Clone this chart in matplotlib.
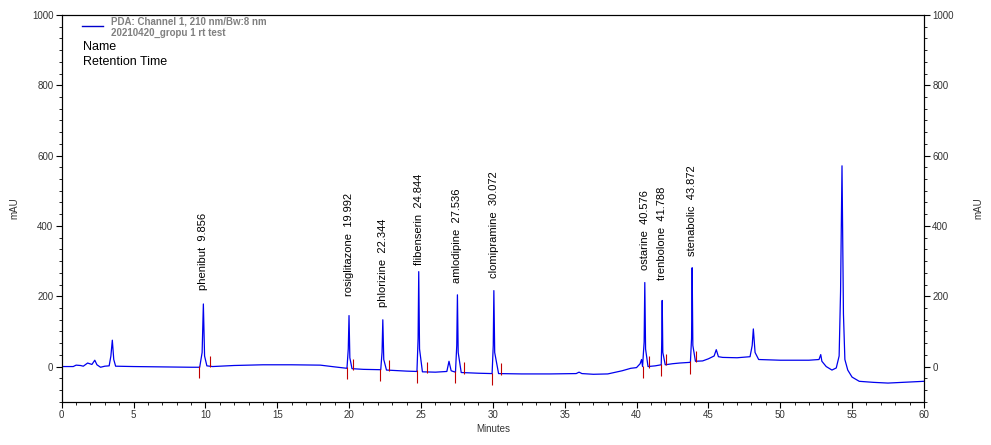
import numpy as np
import matplotlib
matplotlib.use("Agg")
import matplotlib.pyplot as plt
from matplotlib.ticker import MultipleLocator

plt.rcParams['font.family'] = ['Liberation Sans', 'DejaVu Sans']

# trace (minutes, mAU)
time = [0.0, 0.8, 1.0, 1.3, 1.5, 1.8, 2.1, 2.3, 2.45, 2.7, 3.0, 3.3, 3.42, 3.52, 3.62, 3.75,
        5.0, 7.0, 9.0, 9.6, 9.77, 9.856, 9.94, 10.1, 10.5, 12.0, 14.0, 16.0, 18.0, 19.0,
        19.85, 19.94, 19.992, 20.05, 20.2, 21.0, 22.2, 22.29, 22.344, 22.41, 22.6, 24.0,
        24.72, 24.80, 24.844, 24.90, 25.1, 26.0, 26.8, 26.95, 27.1, 27.4, 27.49, 27.536,
        27.59, 27.8, 29.0, 29.95, 30.03, 30.072, 30.13, 30.4, 32.0, 34.0, 35.8, 36.0, 36.2,
        37.0, 38.0, 39.0, 39.6, 40.0, 40.25, 40.35, 40.42, 40.53, 40.576, 40.63, 40.8, 41.3,
        41.72, 41.75, 41.788, 41.83, 42.0, 42.5, 43.0, 43.75, 43.83, 43.872, 43.92, 44.1,
        44.6, 45.0, 45.4, 45.55, 45.7, 46.0, 47.0, 47.9, 48.05, 48.13, 48.25, 48.5, 50.0,
        52.0, 52.7, 52.82, 52.9, 53.2, 53.6, 53.9, 54.1, 54.2, 54.3, 54.4, 54.5, 54.7,
        55.0, 55.5, 56.5, 57.5, 58.5, 60.0]
signal = [0, 0, 4, 3, 1, 10, 6, 18, 5, -2, 1, 2, 30, 75, 20, 1,
          0, -1, -2, -2, 40, 178, 30, 2, 0, 3, 5, 5, 4, -1,
          -5, 50, 145, 25, -6, -8, -9, 40, 133, 20, -10, -13,
          -14, 80, 270, 50, -15, -16, -14, 15, -12, -16, 60, 204,
          40, -17, -19, -20, 60, 216, 40, -20, -21, -21, -20, -16, -20,
          -22, -21, -12, -5, -3, 8, 20, 0, 70, 239, 50, 0, 2,
          5, 60, 188, 40, 5, 8, 10, 12, 80, 281, 60, 15,
          16, 22, 30, 48, 28, 26, 25, 28, 60, 107, 40, 20, 18,
          18, 20, 34, 15, 0, -10, -4, 30, 214, 571, 150, 20, -10,
          -30, -42, -45, -47, -45, -42]

names = ["phenibut", "rosiglitazone", "phlorizine", "flibenserin", "amlodipine",
         "clomipramine", "ostarine", "trenbolone", "stenabolic"]
rt = [9.856, 19.992, 22.344, 24.844, 27.536, 30.072, 40.576, 41.788, 43.872]
heights = [178, 145, 133, 270, 204, 216, 239, 188, 281]
peak_start = [9.55, 19.84, 22.18, 24.71, 27.35, 29.92, 40.43, 41.70, 43.72]
peak_end = [10.3, 20.26, 22.76, 25.40, 27.98, 30.57, 40.84, 42.05, 44.13]
start_base = [-2, -4, -9, -14, -16, -20, -1, 4, 12]
end_base = [1, -7, -10, -15, -17, -20, 0, 6, 15]

label_lift = [40, 55, 35, 20, 34, 37, 37, 59, 33]

fig = plt.figure(figsize=(9.91, 4.45), dpi=100)
ax = fig.add_axes([0.0623, 0.0973, 0.870, 0.869])

ax.plot(time, signal, color='#0000ee', lw=0.9)

tick_col = '#c00000'
ax.vlines(peak_start, np.array(start_base) + 3, np.array(start_base) - 32, color=tick_col, lw=0.8)
ax.vlines(peak_end, np.array(end_base) - 3, np.array(end_base) + 29, color=tick_col, lw=0.8)

for n, t, h, lift in zip(names, rt, heights, label_lift):
    ax.text(t, h + lift, f"{n}  {t:.3f}", rotation=90, ha='center', va='bottom',
            fontsize=8, color='black')

ax.set_xlim(0, 60)
ax.set_ylim(-100, 1000)
ax.xaxis.set_major_locator(MultipleLocator(5))
ax.xaxis.set_minor_locator(MultipleLocator(1))
ax.yaxis.set_major_locator(MultipleLocator(200))
ax.yaxis.set_minor_locator(MultipleLocator(200 / 6))
ax.tick_params(which='major', length=4, width=0.8, labelsize=7, labelcolor='#333333', pad=2)
ax.tick_params(which='minor', length=2.5, width=0.6)
ax.set_xlabel("Minutes", fontsize=7, color='#333333', labelpad=3)
ax.set_ylabel("mAU", fontsize=7, color='#333333', labelpad=9)

ax2 = ax.twinx()
ax2.set_ylim(-100, 1000)
ax2.yaxis.set_major_locator(MultipleLocator(200))
ax2.yaxis.set_minor_locator(MultipleLocator(200 / 6))
ax2.tick_params(which='major', length=4, width=0.8, labelsize=7, labelcolor='#333333', pad=2)
ax2.tick_params(which='minor', length=2.5, width=0.6)
ax2.set_ylabel("mAU", fontsize=7, color='#333333', labelpad=14)

# legend block top-left
fig.add_artist(plt.Line2D([82 / 991, 103 / 991], [1 - 26 / 445, 1 - 26 / 445],
                          color='#0000cc', lw=1))
fig.text(111 / 991, 1 - 22 / 445, "PDA: Channel 1, 210 nm/Bw:8 nm", fontsize=7,
         color='#808080', fontweight='bold', va='center')
fig.text(111 / 991, 1 - 33 / 445, "20210420_gropu 1 rt test", fontsize=7,
         color='#808080', fontweight='bold', va='center')
fig.text(83 / 991, 1 - 47 / 445, "Name", fontsize=9, color='black', va='center')
fig.text(83 / 991, 1 - 62 / 445, "Retention Time", fontsize=9, color='black', va='center')

fig.savefig("out.png", dpi=100)
